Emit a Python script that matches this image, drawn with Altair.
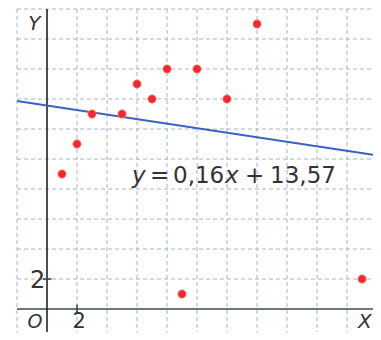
import altair as alt
import pandas as pd

# data
px_x = [1, 2, 3, 5, 6, 7, 8, 9, 10, 12, 14, 21]
px_y = [9, 11, 13, 13, 15, 14, 16, 1, 16, 14, 19, 2]
line_x = [-2, 21.73]
line_y = [13.87, 10.28]
grid_x = [-2, 2, 4, 6, 8, 10, 12, 14, 16, 18, 20]
grid_y = [2, 4, 6, 8, 10, 12, 14, 16, 18, 20]
XMIN, XMAX = -2, 21.73
YMIN, YMAX = -1.53, 20

# equation pieces: text, x (data), italic
eq_text = ["y", "=", "0,16", "x", "+", "13,57"]
eq_x = [5.67, 6.87, 8.4, 11.87, 13.2, 14.87]
eq_italic = [True, False, False, True, False, False]
eq_y = 8.4

# axis labels: text, x, y, size, italic
lab_text = ["Y", "X", "O", "2", "2"]
lab_x = [-1.25, 20.73, -1.3, 1.7, -1.13]
lab_y = [18.6, -1.27, -1.27, -1.27, 1.4]
lab_size = [20, 20, 19, 21, 24]
lab_italic = [True, True, True, False, False]

W, H = 356, 323
FONT = "DejaVu Sans"
xs = alt.Scale(domain=[XMIN, XMAX], nice=False, zero=False)
ys = alt.Scale(domain=[YMIN, YMAX], nice=False, zero=False)

gx = pd.DataFrame({"x": grid_x})
gy = pd.DataFrame({"y": grid_y})
grid_v = alt.Chart(gx).mark_rule(strokeDash=[4, 3], color="#a9b3cf", strokeWidth=1).encode(
    x=alt.X("x:Q", scale=xs, axis=None),
    y=alt.value(0), y2=alt.value(H))
grid_h = alt.Chart(gy).mark_rule(strokeDash=[4, 3], color="#a9b3cf", strokeWidth=1).encode(
    y=alt.Y("y:Q", scale=ys, axis=None),
    x=alt.value(0), x2=alt.value(W))

axes_df = pd.DataFrame({
    "x": [XMIN, 0, 2, -0.3],
    "x2": [XMAX, 0, 2, 0.3],
    "y": [0, YMIN, -0.3, 2],
    "y2": [0, YMAX, 0.3, 2],
    "c": ["#3e4a4a", "#222222", "#3e4a4a", "#3e4a4a"],
})
axes = alt.Chart(axes_df).mark_rule(strokeWidth=1.6).encode(
    x=alt.X("x:Q", scale=xs, axis=None), x2="x2:Q",
    y=alt.Y("y:Q", scale=ys, axis=None), y2="y2:Q",
    color=alt.Color("c:N", scale=None),
)

line = alt.Chart(pd.DataFrame({"x": line_x, "y": line_y})).mark_line(
    color="#3a62c0", strokeWidth=2).encode(
    x=alt.X("x:Q", scale=xs, axis=None), y=alt.Y("y:Q", scale=ys, axis=None))

points = alt.Chart(pd.DataFrame({"x": px_x, "y": px_y})).mark_circle(
    size=70, color="#f5243c", opacity=1, stroke="#ffb040", strokeWidth=0.6).encode(
    x=alt.X("x:Q", scale=xs, axis=None), y=alt.Y("y:Q", scale=ys, axis=None))

eq_df = pd.DataFrame({"t": eq_text, "x": eq_x, "y": [eq_y] * len(eq_text),
                      "st": ["italic" if i else "normal" for i in eq_italic]})
eq_layers = []
for style in ["italic", "normal"]:
    eq_layers.append(
        alt.Chart(eq_df[eq_df.st == style]).mark_text(
            align="left", baseline="alphabetic", fontSize=23, font=FONT,
            fontStyle=style, color="#333333").encode(
            x=alt.X("x:Q", scale=xs, axis=None), y=alt.Y("y:Q", scale=ys, axis=None),
            text="t:N"))

lab_layers = []
for t, x, y, s, it in zip(lab_text, lab_x, lab_y, lab_size, lab_italic):
    lab_layers.append(
        alt.Chart(pd.DataFrame({"t": [t], "x": [x], "y": [y]})).mark_text(
            align="left", baseline="alphabetic", fontSize=s, font=FONT,
            fontStyle="italic" if it else "normal", color="#333333").encode(
            x=alt.X("x:Q", scale=xs, axis=None), y=alt.Y("y:Q", scale=ys, axis=None),
            text="t:N"))

chart = alt.layer(grid_v, grid_h, axes, line, points, *eq_layers, *lab_layers).properties(
    width=W, height=H,
    padding={"left": 9, "top": 1, "right": 0, "bottom": 0},
    autosize="none",
    background="white",
).configure_view(stroke=None)

chart.save("out.html", embed_options={"renderer": "svg", "actions": False})
